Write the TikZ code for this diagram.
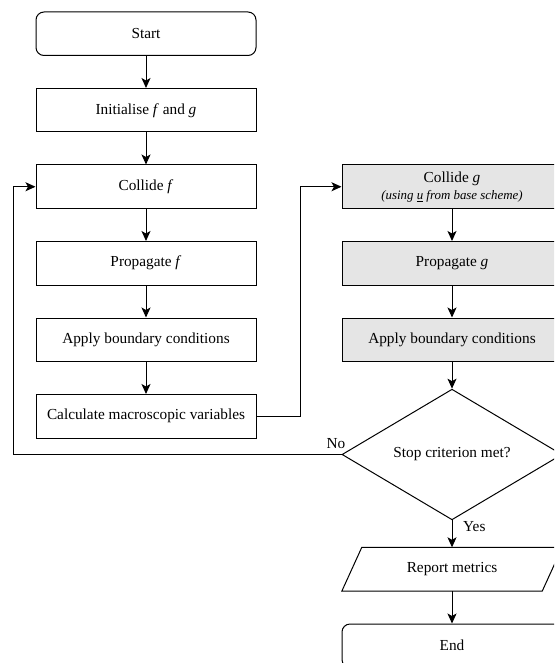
\documentclass[tikz,border=0pt]{standalone}
\usepackage{fontspec}
\setmainfont{Liberation Serif}
\usetikzlibrary{shapes.geometric,arrows.meta,calc}
\begin{document}
\begin{tikzpicture}[x=1pt,y=-1pt,
  mainfont/.style={font=\fontsize{15.3}{18}\selectfont},
  base/.style={draw=black, line width=1pt, minimum width=220pt, minimum height=43.5pt, inner sep=0pt, align=center, mainfont},
  proc/.style={base, rectangle},
  term/.style={base, rectangle, rounded corners=8pt},
  gproc/.style={proc, fill=black!10},
  dec/.style={base, diamond, minimum width=220pt, minimum height=120pt},
  io/.style={inner sep=0pt, minimum width=220pt, minimum height=43.5pt, mainfont},
  conn/.style={line width=1pt, -{Stealth[length=10pt,width=9pt,inset=2.5pt]}},
  lbl/.style={mainfont, inner sep=0pt}
]
\useasboundingbox (0,0) rectangle (554,663);
\clip (0,0) rectangle (554,663);

% left column
\node[term] (start) at (146,33.75) {Start};
\node[proc] (init) at (146,110.25) {Initialise \textit{f} and \textit{g}};
\node[proc] (collf) at (146,186.75) {Collide \textit{f}};
\node[proc] (propf) at (146,263.25) {Propagate \textit{f}};
\node[proc] (bcf) at (146,339.75) {Apply boundary conditions};
\node[proc] (macro) at (146,416.25) {Calculate macroscopic variables};

% right column
\node[gproc] (collg) at (452,186.75) {Collide \textit{g}\\[-1pt]{\fontsize{12.9}{15}\selectfont\itshape (using \underline{u} from base scheme)}};
\node[gproc] (propg) at (452,263.25) {Propagate \textit{g}};
\node[gproc] (bcg) at (452,339.75) {Apply boundary conditions};
\node[dec] (stop) at (452,454.5) {Stop criterion met?};
\node[io] (report) at (452,569.25) {Report metrics};
\draw[line width=1pt] (report.south west) -- ($(report.north west)+(20,0)$) -- (report.north east) -- ($(report.south east)+(-20,0)$) -- cycle;
\node[term] (end) at (452,645.75) {End};

% connectors
\draw[conn] (start) -- (init);
\draw[conn] (init) -- (collf);
\draw[conn] (collf) -- (propf);
\draw[conn] (propf) -- (bcf);
\draw[conn] (bcf) -- (macro);
\draw[conn] (macro.east) -- ++(44,0) |- (collg.west);
\draw[conn] (collg) -- (propg);
\draw[conn] (propg) -- (bcg);
\draw[conn] (bcg) -- (stop.north);
\draw[conn] (stop.west) -- ++(-328,0) |- (collf.west);
\draw[conn] (stop.south) -- (report.north);
\draw[conn] (report.south) -- (end.north);

% labels
\node[lbl] (no) at ($(stop.west)+(-5.5,-11)$) {No};
\node[lbl, anchor=west] (yes) at ($(stop.south)+(11,6)$) {Yes};
\end{tikzpicture}
\end{document}
